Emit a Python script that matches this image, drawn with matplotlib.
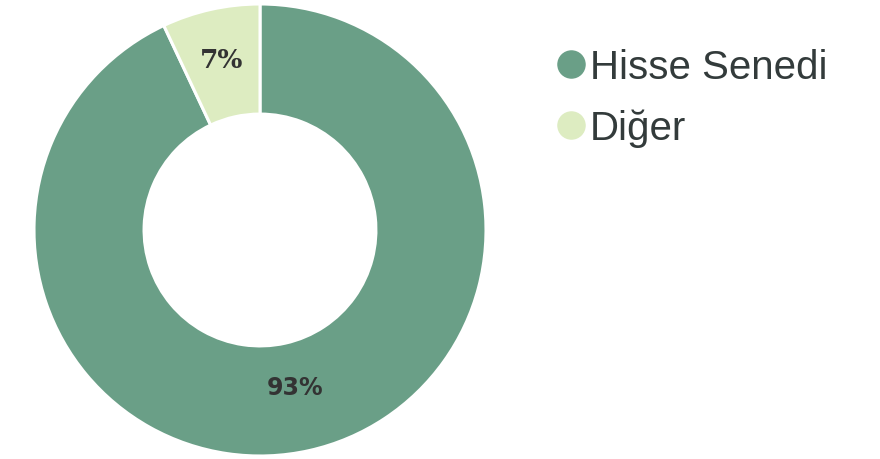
import matplotlib
matplotlib.use("Agg")
import matplotlib.pyplot as plt
from matplotlib.lines import Line2D
import numpy as np

categories = ["Hisse Senedi", "Diğer"]
values = [93, 7]
colors = ["#6a9f87", "#ddecc1"]

W, H = 880, 460
fig = plt.figure(figsize=(W / 100, H / 100), dpi=100)
R = 226
cx, cy = 260, 231
ax = fig.add_axes([(cx - R) / W, (H - cy - R) / H, 2 * R / W, 2 * R / H])
wedges, _ = ax.pie(values, colors=colors, startangle=90, counterclock=False,
                   radius=1.0, wedgeprops=dict(width=0.487, edgecolor="white", linewidth=2.2))
ax.set_xlim(-1, 1)
ax.set_ylim(-1, 1)
ax.set_aspect("equal")
ax.axis("off")

label_r = [0.71, 0.775]
label_fonts = [dict(family="DejaVu Sans", size=17, weight="bold"),
               dict(family="DejaVu Serif", size=19, weight="bold")]
for w, v, r, f in zip(wedges, values, label_r, label_fonts):
    ang = np.deg2rad((w.theta1 + w.theta2) / 2)
    ax.text(r * np.cos(ang), r * np.sin(ang), f"{v}%", ha="center", va="center",
            color="#333333", **f)

handles = [Line2D([], [], marker="o", linestyle="none", markersize=19.5,
                  markerfacecolor=c, markeredgecolor=c) for c in colors]
fig.legend(handles, categories, loc="upper left", bbox_to_anchor=(558 / W, 1 - 49 / H),
           frameon=False, prop=dict(family="Liberation Sans", size=29),
           labelcolor="#333b3b", handlelength=0.65, handletextpad=0.15,
           labelspacing=0.55, borderpad=0, borderaxespad=0)

fig.savefig("out.png", dpi=100)
